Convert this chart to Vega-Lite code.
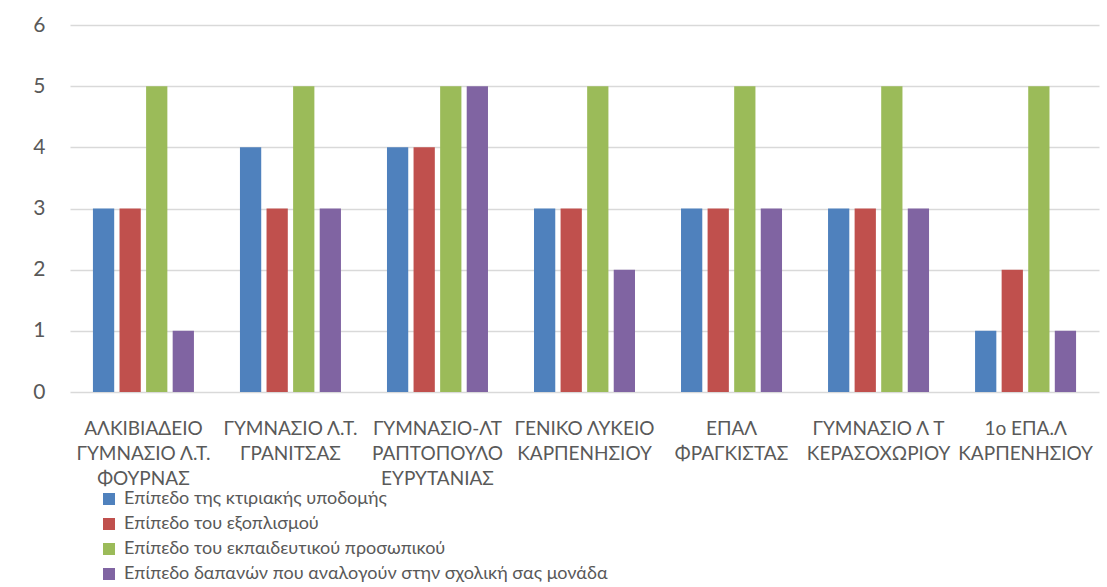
{
  "$schema": "https://vega.github.io/schema/vega-lite/v6.json",
  "autosize": "none",
  "width": 1029,
  "height": 367,
  "padding": {"left": 70, "top": 25, "right": 8, "bottom": 195},
  "background": "white",
  "data": {
    "values": [
      {"school": "ΑΛΚΙΒΙΑΔΕΙΟ|ΓΥΜΝΑΣΙΟ Λ.Τ.|ΦΟΥΡΝΑΣ", "series": "Επίπεδο της κτιριακής υποδομής", "value": 3},
      {"school": "ΑΛΚΙΒΙΑΔΕΙΟ|ΓΥΜΝΑΣΙΟ Λ.Τ.|ΦΟΥΡΝΑΣ", "series": "Επίπεδο του εξοπλισμού", "value": 3},
      {"school": "ΑΛΚΙΒΙΑΔΕΙΟ|ΓΥΜΝΑΣΙΟ Λ.Τ.|ΦΟΥΡΝΑΣ", "series": "Επίπεδο του εκπαιδευτικού προσωπικού", "value": 5},
      {"school": "ΑΛΚΙΒΙΑΔΕΙΟ|ΓΥΜΝΑΣΙΟ Λ.Τ.|ΦΟΥΡΝΑΣ", "series": "Επίπεδο δαπανών που αναλογούν στην σχολική σας μονάδα", "value": 1},
      {"school": "ΓΥΜΝΑΣΙΟ Λ.Τ.|ΓΡΑΝΙΤΣΑΣ", "series": "Επίπεδο της κτιριακής υποδομής", "value": 4},
      {"school": "ΓΥΜΝΑΣΙΟ Λ.Τ.|ΓΡΑΝΙΤΣΑΣ", "series": "Επίπεδο του εξοπλισμού", "value": 3},
      {"school": "ΓΥΜΝΑΣΙΟ Λ.Τ.|ΓΡΑΝΙΤΣΑΣ", "series": "Επίπεδο του εκπαιδευτικού προσωπικού", "value": 5},
      {"school": "ΓΥΜΝΑΣΙΟ Λ.Τ.|ΓΡΑΝΙΤΣΑΣ", "series": "Επίπεδο δαπανών που αναλογούν στην σχολική σας μονάδα", "value": 3},
      {"school": "ΓΥΜΝΑΣΙΟ-ΛΤ|ΡΑΠΤΟΠΟΥΛΟ|ΕΥΡΥΤΑΝΙΑΣ", "series": "Επίπεδο της κτιριακής υποδομής", "value": 4},
      {"school": "ΓΥΜΝΑΣΙΟ-ΛΤ|ΡΑΠΤΟΠΟΥΛΟ|ΕΥΡΥΤΑΝΙΑΣ", "series": "Επίπεδο του εξοπλισμού", "value": 4},
      {"school": "ΓΥΜΝΑΣΙΟ-ΛΤ|ΡΑΠΤΟΠΟΥΛΟ|ΕΥΡΥΤΑΝΙΑΣ", "series": "Επίπεδο του εκπαιδευτικού προσωπικού", "value": 5},
      {"school": "ΓΥΜΝΑΣΙΟ-ΛΤ|ΡΑΠΤΟΠΟΥΛΟ|ΕΥΡΥΤΑΝΙΑΣ", "series": "Επίπεδο δαπανών που αναλογούν στην σχολική σας μονάδα", "value": 5},
      {"school": "ΓΕΝΙΚΟ ΛΥΚΕΙΟ|ΚΑΡΠΕΝΗΣΙΟΥ", "series": "Επίπεδο της κτιριακής υποδομής", "value": 3},
      {"school": "ΓΕΝΙΚΟ ΛΥΚΕΙΟ|ΚΑΡΠΕΝΗΣΙΟΥ", "series": "Επίπεδο του εξοπλισμού", "value": 3},
      {"school": "ΓΕΝΙΚΟ ΛΥΚΕΙΟ|ΚΑΡΠΕΝΗΣΙΟΥ", "series": "Επίπεδο του εκπαιδευτικού προσωπικού", "value": 5},
      {"school": "ΓΕΝΙΚΟ ΛΥΚΕΙΟ|ΚΑΡΠΕΝΗΣΙΟΥ", "series": "Επίπεδο δαπανών που αναλογούν στην σχολική σας μονάδα", "value": 2},
      {"school": "ΕΠΑΛ|ΦΡΑΓΚΙΣΤΑΣ", "series": "Επίπεδο της κτιριακής υποδομής", "value": 3},
      {"school": "ΕΠΑΛ|ΦΡΑΓΚΙΣΤΑΣ", "series": "Επίπεδο του εξοπλισμού", "value": 3},
      {"school": "ΕΠΑΛ|ΦΡΑΓΚΙΣΤΑΣ", "series": "Επίπεδο του εκπαιδευτικού προσωπικού", "value": 5},
      {"school": "ΕΠΑΛ|ΦΡΑΓΚΙΣΤΑΣ", "series": "Επίπεδο δαπανών που αναλογούν στην σχολική σας μονάδα", "value": 3},
      {"school": "ΓΥΜΝΆΣΙΟ Λ Τ|ΚΕΡΑΣΟΧΩΡΊΟΥ", "series": "Επίπεδο της κτιριακής υποδομής", "value": 3},
      {"school": "ΓΥΜΝΆΣΙΟ Λ Τ|ΚΕΡΑΣΟΧΩΡΊΟΥ", "series": "Επίπεδο του εξοπλισμού", "value": 3},
      {"school": "ΓΥΜΝΆΣΙΟ Λ Τ|ΚΕΡΑΣΟΧΩΡΊΟΥ", "series": "Επίπεδο του εκπαιδευτικού προσωπικού", "value": 5},
      {"school": "ΓΥΜΝΆΣΙΟ Λ Τ|ΚΕΡΑΣΟΧΩΡΊΟΥ", "series": "Επίπεδο δαπανών που αναλογούν στην σχολική σας μονάδα", "value": 3},
      {"school": "1ο ΕΠΑ.Λ|ΚΑΡΠΕΝΗΣΙΟΥ", "series": "Επίπεδο της κτιριακής υποδομής", "value": 1},
      {"school": "1ο ΕΠΑ.Λ|ΚΑΡΠΕΝΗΣΙΟΥ", "series": "Επίπεδο του εξοπλισμού", "value": 2},
      {"school": "1ο ΕΠΑ.Λ|ΚΑΡΠΕΝΗΣΙΟΥ", "series": "Επίπεδο του εκπαιδευτικού προσωπικού", "value": 5},
      {"school": "1ο ΕΠΑ.Λ|ΚΑΡΠΕΝΗΣΙΟΥ", "series": "Επίπεδο δαπανών που αναλογούν στην σχολική σας μονάδα", "value": 1}
    ]
  },
  "mark": {"type": "bar"},
  "encoding": {
    "x": {
      "field": "school",
      "type": "nominal",
      "sort": null,
      "scale": {"paddingInner": 0.313, "paddingOuter": 0.156},
      "axis": {
        "title": null,
        "labelAngle": 0,
        "labelExpr": "split(datum.label, '|')",
        "labelLineHeight": 25,
        "labelFont": "Lato",
        "labelFontSize": 19,
        "labelColor": "#595959",
        "labelPadding": 27,
        "labelLimit": 200,
        "ticks": false,
        "domain": false
      }
    },
    "xOffset": {
      "field": "series",
      "type": "nominal",
      "sort": null,
      "scale": {"paddingInner": 0.2, "paddingOuter": 0}
    },
    "y": {
      "field": "value",
      "type": "quantitative",
      "scale": {"domain": [0, 6], "nice": false},
      "axis": {
        "title": null,
        "values": [0, 1, 2, 3, 4, 5, 6],
        "labelFont": "Lato",
        "labelFontSize": 21,
        "labelColor": "#595959",
        "labelPadding": 25,
        "labelOverlap": false,
        "ticks": false,
        "domain": false,
        "gridColor": "#d9d9d9",
        "gridWidth": 1.5
      }
    },
    "color": {
      "field": "series",
      "type": "nominal",
      "sort": null,
      "scale": {
        "domain": ["Επίπεδο της κτιριακής υποδομής", "Επίπεδο του εξοπλισμού", "Επίπεδο του εκπαιδευτικού προσωπικού", "Επίπεδο δαπανών που αναλογούν στην σχολική σας μονάδα"],
        "range": ["#4F81BD", "#C0504D", "#9BBB59", "#8064A2"]
      },
      "legend": {
        "title": null,
        "orient": "none",
        "legendX": 30,
        "legendY": 465,
        "direction": "vertical",
        "symbolType": "square",
        "symbolSize": 144,
        "symbolStrokeWidth": 0,
        "labelFont": "Lato",
        "labelFontSize": 18,
        "labelColor": "#595959",
        "labelLimit": 700,
        "labelOffset": 6,
        "rowPadding": 7,
        "padding": 0
      }
    }
  },
  "config": {
    "view": {"stroke": null}
  }
}
